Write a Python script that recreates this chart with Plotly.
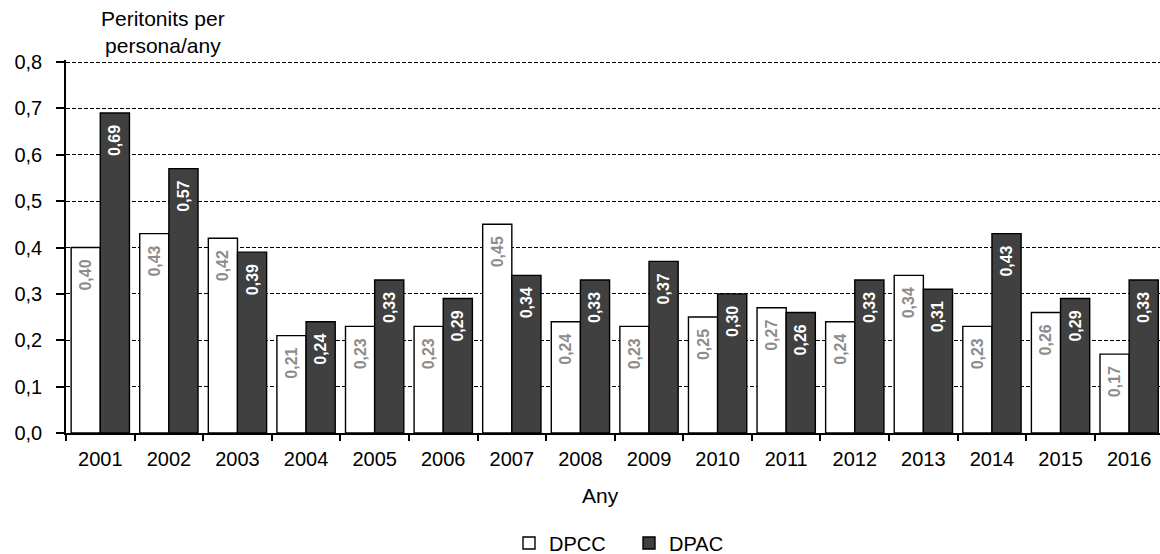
import plotly.graph_objects as go

years = [str(y) for y in range(2001, 2017)]
dpcc = [0.40, 0.43, 0.42, 0.21, 0.23, 0.23, 0.45, 0.24, 0.23, 0.25, 0.27, 0.24, 0.34, 0.23, 0.26, 0.17]
dpac = [0.69, 0.57, 0.39, 0.24, 0.33, 0.29, 0.34, 0.33, 0.37, 0.30, 0.26, 0.33, 0.31, 0.43, 0.29, 0.33]

FONT = "Liberation Sans, Arial, sans-serif"
W, H = 1160, 554
L, R, T, B = 66, 0, 60, 121
PW, PH = W - L - R, H - T - B
YTOP = 0.8 * PH / (PH - 2)
NB = "\u00a0\u00a0"

fig = go.Figure()
fig.add_trace(go.Bar(
    x=years, y=dpcc, name="DPCC",
    marker=dict(color="white", line=dict(color="black", width=1.4)),
    texttemplate="<b>%{y:.2f}</b>" + NB, textposition="inside", insidetextanchor="end",
    textangle=-90, textfont=dict(family=FONT, size=16, color="#8c8c8c"),
    constraintext="none",
))
fig.add_trace(go.Bar(
    x=years, y=dpac, name="DPAC",
    marker=dict(color="#404040", line=dict(color="black", width=1.4)),
    texttemplate="<b>%{y:.2f}</b>" + NB, textposition="inside", insidetextanchor="end",
    textangle=-90, textfont=dict(family=FONT, size=16, color="white"),
    constraintext="none",
))

fig.update_layout(
    width=W, height=H,
    margin=dict(l=L, r=R, t=T, b=B, autoexpand=False),
    paper_bgcolor="white", plot_bgcolor="white",
    separators=", ",
    barmode="group", bargap=0.15, bargroupgap=0.0,
    font=dict(family=FONT, size=20, color="black"),
    showlegend=True,
    legend=dict(orientation="h", x=(509 - L) / PW, xanchor="left",
                y=(T + PH - 543) / PH, yanchor="middle",
                font=dict(family=FONT, size=20, color="black"), entrywidth=75,
                traceorder="normal"),
    xaxis=dict(
        type="category", range=[-0.5, 15.45],
        showline=True, linecolor="black", linewidth=1.5,
        ticks="outside", tickson="boundaries", ticklen=6, tickcolor="black", tickwidth=1.5,
        tickfont=dict(family=FONT, size=20, color="black"),
        ticklabelstandoff=7,
        showgrid=False,
    ),
    yaxis=dict(
        range=[0, YTOP], dtick=0.1, tickformat=".1f",
        showline=True, linecolor="black", linewidth=1.5,
        ticks="outside", ticklen=8, tickcolor="black", tickwidth=1.5,
        tickfont=dict(family=FONT, size=20, color="black"),
        ticklabelstandoff=10,
        showgrid=True, gridcolor="black", gridwidth=1, griddash="4px,2px",
        zeroline=False,
    ),
    annotations=[
        dict(text="Peritonits per<br>persona/any", xref="paper", yref="paper",
             x=(163 - L) / PW, y=(T + PH - 32) / PH, xanchor="center", yanchor="middle",
             showarrow=False, font=dict(family=FONT, size=21, color="black")),
        dict(text="Any", xref="paper", yref="paper",
             x=(600 - L) / PW, y=(T + PH - 495) / PH, xanchor="center", yanchor="middle",
             showarrow=False, font=dict(family=FONT, size=21, color="black")),
    ],
)

fig.write_html("out.html", config={"displayModeBar": False},
               post_script="document.body.style.margin='0';document.body.style.overflow='hidden';")
